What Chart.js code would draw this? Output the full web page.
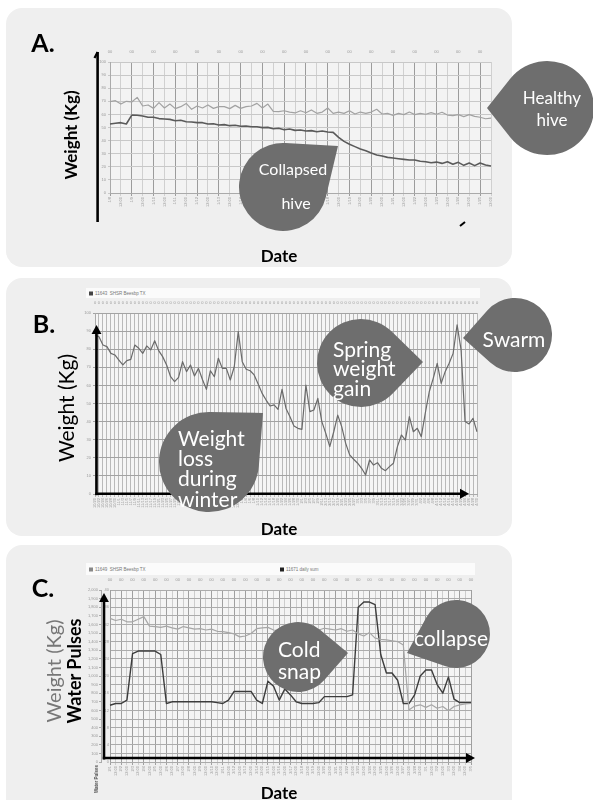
<!DOCTYPE html>
<html><head><meta charset="utf-8">
<script src="https://cdn.jsdelivr.net/npm/chart.js@4.4.1/dist/chart.umd.min.js"></script>
<style>
html,body{margin:0;padding:0;background:#fff;width:593px;height:800px;overflow:hidden;font-family:Lato,"Open Sans",sans-serif;}
.panel{position:absolute;background:#efefef;border-radius:16px;}
canvas{position:absolute;}
.c{position:absolute;white-space:nowrap;transform:translate(-50%,-50%);line-height:1;}
.l{position:absolute;white-space:nowrap;transform:translateY(-50%);line-height:1;}
.rot{position:absolute;white-space:nowrap;transform:translate(-50%,-50%) rotate(-90deg);line-height:1;}
.w{color:#fff;}
#bub{position:absolute;left:0;top:0;}
.legend{position:absolute;background:#fbfbfb;font-family:"Liberation Sans",sans-serif;font-size:4.5px;color:#777;}
.legend span{position:absolute;top:50%;transform:translateY(-50%);white-space:nowrap;}
.legend i{display:inline-block;width:4px;height:4px;margin-right:2px;vertical-align:middle;}
</style></head>
<body>
<div class="panel" style="left:6px;top:8px;width:506px;height:259px"></div>
<div class="panel" style="left:6px;top:278px;width:506px;height:258px"></div>
<div class="panel" style="left:6px;top:545px;width:506px;height:275px"></div>

<div class="legend" style="left:86px;top:288px;width:394px;height:10px"><span style="left:3px"><i style="background:#444"></i>11643 &nbsp;SHSR Beesbp TX</span></div>
<div class="legend" style="left:86px;top:563px;width:389px;height:12px"><span style="left:3px"><i style="background:#888"></i>11649 &nbsp;SHSR Beesbp TX</span><span style="left:194px"><i style="background:#222"></i>11671 daily sum</span></div>

<canvas id="cA" width="410" height="185" style="left:88px;top:46px"></canvas>
<canvas id="cB" width="400" height="215" style="left:84px;top:300px"></canvas>
<canvas id="cC" width="400" height="205" style="left:84px;top:578px"></canvas>

<svg id="bub" width="593" height="800"></svg>

<div class="c" style="left:43px;top:42px;font-weight:700;font-size:25px">A.</div>
<div class="rot" style="left:70px;top:135px;font-weight:700;font-size:17px">Weight (Kg)</div>
<div class="c" style="left:279px;top:255px;font-weight:700;font-size:17px">Date</div>
<div class="c w" style="left:552px;top:97px;font-size:17px">Healthy</div>
<div class="c w" style="left:552px;top:119px;font-size:17px">hive</div>
<div class="c w" style="left:293px;top:169px;font-size:16px">Collapsed</div>
<div class="c w" style="left:296px;top:203px;font-size:16px">hive</div>

<div class="c" style="left:44px;top:323px;font-weight:700;font-size:25px">B.</div>
<div class="rot" style="left:65px;top:408px;font-size:21px">Weight (Kg)</div>
<div class="c" style="left:279px;top:528px;font-weight:700;font-size:17px">Date</div>
<div class="l w" style="left:178px;top:437px;font-size:21px">Weight</div>
<div class="l w" style="left:178px;top:457px;font-size:21px">loss</div>
<div class="l w" style="left:178px;top:477px;font-size:21px">during</div>
<div class="l w" style="left:178px;top:498px;font-size:21px">winter</div>
<div class="l w" style="left:333px;top:348px;font-size:21px">Spring</div>
<div class="l w" style="left:333px;top:367px;font-size:21px">weight</div>
<div class="l w" style="left:333px;top:387px;font-size:21px">gain</div>
<div class="c w" style="left:514px;top:338px;font-size:21px">Swarm</div>

<div class="c" style="left:43px;top:587px;font-weight:700;font-size:25px">C.</div>
<div class="rot" style="left:53px;top:671px;font-size:20px;color:#777">Weight (Kg)</div>
<div class="rot" style="left:74px;top:671px;font-size:18px;font-weight:700;color:#000">Water Pulses</div>
<div class="rot" style="left:97px;top:779px;font-size:4.5px;font-weight:700;color:#555;font-family:'Liberation Sans'">Water Pulses</div>
<div class="c" style="left:279px;top:792px;font-weight:700;font-size:17px">Date</div>
<div class="l w" style="left:278px;top:648px;font-size:21px">Cold</div>
<div class="l w" style="left:278px;top:670px;font-size:21px">snap</div>
<div class="c w" style="left:451px;top:637px;font-size:21px">collapse</div>

<script>
// ---------- DATA ----------
// Panel A: samples every 6 h, day ticks
const daysA = ['1/8','1/9','1/10','1/11','1/12','1/13','1/14','1/15','1/16','1/17','1/18','1/19','1/20','1/21','1/22','1/23','1/24','1/25'];
const healthyA = [69.7,70.5,67.9,70.0,69.5,73.0,66.4,67.2,64.6,69.0,
  64.9,67.9,64.4,65.9,68.4,63.9,66.4,64.9,67.2,64.6,
  65.9,65.9,64.4,66.9,64.6,65.9,66.4,68.4,64.9,67.9,
  62.3,62.1,62.8,61.8,61.1,62.8,61.3,63.4,60.8,61.8,
  64.9,60.8,61.8,60.8,62.8,60.3,61.8,60.8,61.8,63.9,
  60.3,60.8,59.3,60.8,59.8,61.8,59.8,60.8,60.1,61.3,
  60.1,61.6,59.5,59.0,59.8,58.3,59.8,58.5,57.8,56.7,57.2];
const collapsedA = [52.7,53.2,53.7,52.7,59.5,59.3,58.8,57.8,57.8,56.8,
  56.5,56.2,55.2,55.5,54.4,54.2,53.7,53.7,52.7,52.9,
  51.9,52.2,51.4,51.7,50.9,51.1,50.6,50.6,49.9,50.1,
  49.1,49.4,48.3,48.9,47.8,48.1,47.3,47.6,46.8,47.3,
  46.6,46.3,42.5,39.4,37.2,35.4,33.6,32.3,30.5,29.0,
  28.2,27.2,26.7,26.2,25.7,25.2,25.2,24.2,23.9,23.1,
  23.6,22.6,23.9,21.9,23.4,21.1,22.9,20.9,22.9,21.4,20.6];

// Panel B: one sample every 2 days
const datesB = ['10/20','10/22','10/24','10/26','10/28','10/30',
  '11/1','11/3','11/5','11/7','11/9','11/11','11/13','11/15','11/17','11/19','11/21','11/23','11/25','11/27','11/29',
  '12/1','12/3','12/5','12/7','12/9','12/11','12/13','12/15','12/17','12/19','12/21','12/23','12/25','12/27','12/29','12/31',
  '1/2','1/4','1/6','1/8','1/10','1/12','1/14','1/16','1/18','1/20','1/22','1/24','1/26','1/28','1/30',
  '2/1','2/3','2/5','2/7','2/9','2/11','2/13','2/15','2/17','2/19','2/21','2/23','2/25','2/27',
  '3/1','3/3','3/5','3/7','3/9','3/11','3/13','3/15','3/17','3/19','3/21','3/23','3/25','3/27','3/29','3/31',
  '4/2','4/4','4/6','4/8','4/10','4/12','4/14','4/16','4/18','4/20','4/22','4/24','4/26','4/28','4/30'];
const weightB = [87.8,86.9,82.3,81.4,77.7,76.8,74.0,71.3,73.7,74.4,
  82.3,80.5,77.7,81.8,79.6,84.7,79.2,75.9,71.3,64.8,
  62.1,64.4,73.1,67.6,71.3,65.2,69.4,63.3,57.8,68.1,
  64.8,75.0,69.4,69.4,63.0,70.3,89.7,73.1,68.9,68.1,
  65.8,60.8,55.6,51.9,48.6,49.2,46.8,57.8,47.3,42.7,
  37.6,36.3,35.7,60.2,45.5,46.4,52.8,40.0,33.5,26.2,
  34.4,43.6,37.2,28.0,21.6,19.2,17.0,14.2,10.5,18.8,
  16.0,17.3,14.2,12.9,15.1,17.0,26.2,32.6,29.8,42.7,
  34.4,36.3,31.7,44.6,56.5,63.9,72.2,61.1,67.6,72.2,
  77.7,93.4,79.6,40.0,38.7,41.8,34.4];

// Panel C: samples every 12 h
const daysC = ['2/1','2/2','2/3','2/4','2/5','2/6','2/7','2/8','2/9','2/10','2/11','2/12','2/13','2/14','2/15','2/16','2/17','2/18','2/19','2/20','2/21','2/22','2/23','2/24','2/25','2/26','2/27','2/28','3/1','3/2','3/3','3/4','3/5'];
const weightC = [33.4,32.9,33.2,32.6,32.6,33.2,33.8,31.6,31.5,31.3,
  31.6,31.2,30.9,31.5,31.2,30.9,31.0,30.7,30.9,30.4,
  30.3,30.1,29.8,29.1,29.3,29.9,31.0,31.2,31.3,30.7,
  30.5,30.7,30.4,30.7,30.5,30.7,30.9,30.7,31.1,30.9,
  30.7,31.0,30.4,30.7,29.8,29.3,30.1,28.8,28.5,28.4,
  28.2,28.0,27.2,12.1,13.0,13.3,12.7,13.3,12.5,12.9,
  11.9,12.9,13.3,13.5,13.6];
const pulsesC = [660,680,680,720,1260,1290,1290,1290,1290,1250,
  680,700,700,700,700,700,700,700,700,690,
  680,720,820,820,820,820,720,680,940,880,
  720,850,780,700,680,680,680,690,760,760,
  760,760,760,780,1800,1860,1860,1830,1250,1035,
  1035,950,680,680,780,1000,1070,1070,900,800,
  990,730,690,690,690];

// ---------- helpers ----------
Chart.defaults.font.family = "'Liberation Sans', sans-serif";
const tickFont = {font:{size:4}, color:'#999'};
const fitH = h => s => { s.height = h; s.paddingLeft = 0; s.paddingRight = 0; };
const fitW = w => s => { s.width = w; s.paddingTop = 0; s.paddingBottom = 0; };
const base = {animation:false, responsive:false, devicePixelRatio:1, events:[],
  plugins:{legend:{display:false}, tooltip:{enabled:false}},
  elements:{point:{radius:0}, line:{borderJoinStyle:'round', tension:0}}};

function deco(bg, shapes) {
  return {
    id:'deco',
    beforeDraw(chart) {
      const ctx = chart.ctx, a = chart.chartArea;
      ctx.save(); ctx.fillStyle = bg; ctx.fillRect(a.left, a.top, a.right - a.left, a.bottom - a.top); ctx.restore();
    },
    afterDraw(chart) {
      const ctx = chart.ctx, a = chart.chartArea;
      ctx.save(); ctx.strokeStyle = '#000'; ctx.fillStyle = '#000';
      shapes(a).forEach(([x1, y1, x2, y2, w, head]) => {
        const dx = x2 - x1, dy = y2 - y1, L = Math.hypot(dx, dy), ux = dx / L, uy = dy / L;
        let ex = x2, ey = y2;
        if (head) { ex = x2 - ux * head; ey = y2 - uy * head; }
        ctx.lineWidth = w; ctx.beginPath(); ctx.moveTo(x1, y1); ctx.lineTo(ex, ey); ctx.stroke();
        if (head) {
          const hw = head * 0.55;
          ctx.beginPath(); ctx.moveTo(x2, y2);
          ctx.lineTo(ex - uy * hw, ey + ux * hw); ctx.lineTo(ex + uy * hw, ey - ux * hw);
          ctx.closePath(); ctx.fill();
        }
      });
      ctx.restore();
    }
  };
}

// ---------- Chart A ----------
const labelsA = healthyA.map((_, i) => i % 4 === 0 ? daysA[i / 4] : (i % 4 === 2 ? '12:00' : ''));
const topA = healthyA.map((_, i) => i % 4 === 0 ? '00' : '');
new Chart(document.getElementById('cA'), {
  type:'line',
  data:{labels:labelsA, datasets:[
    {data:healthyA, borderColor:'#a2a2a2', borderWidth:1.2},
    {data:collapsedA, borderColor:'#5a5a5a', borderWidth:1.6}]},
  options:{...base, layout:{padding:{right:7}},
    scales:{
      x:{position:'bottom', grid:{color:c => c.index % 4 === 0 ? '#9c9c9c' : (c.index % 2 === 0 ? '#d0d0d0' : 'rgba(0,0,0,0)'), tickLength:3},
         border:{color:'#aaa'}, ticks:{...tickFont, autoSkip:false, minRotation:90, maxRotation:90, padding:1}, afterFit:fitH(38)},
      xt:{type:'category', position:'top', labels:topA, grid:{display:false}, border:{display:false},
         ticks:{...tickFont, autoSkip:false, minRotation:0, maxRotation:0, padding:0}, afterFit:fitH(16)},
      y:{min:0, max:100, ticks:{...tickFont, stepSize:10, padding:2}, grid:{color:'#c8c8c8', tickLength:2}, border:{color:'#aaa'}, afterFit:fitW(22)}
    }},
  plugins:[deco('#f3f3f3', a => [
    [a.left - 12.4, a.bottom + 29, a.left - 12.4, a.top - 10, 2.6, 0],
    [a.left - 15.5, a.top - 4, a.left - 12.4, a.top - 10, 2.2, 0],
    [a.right - 31, a.bottom + 33, a.right - 26, a.bottom + 29, 2, 0]
  ])]
});

// ---------- Chart B ----------
const topB = datesB.map(() => '0');
new Chart(document.getElementById('cB'), {
  type:'line',
  data:{labels:datesB, datasets:[{data:weightB, borderColor:'#6a6a6a', borderWidth:1.2}]},
  options:{...base, layout:{padding:{right:7}},
    scales:{
      x:{position:'bottom', grid:{color:'#b9b9b9', tickLength:3}, border:{color:'#aaa'},
         ticks:{...tickFont, autoSkip:false, minRotation:90, maxRotation:90, padding:1}, afterFit:fitH(21)},
      xt:{type:'category', position:'top', labels:topB, grid:{display:false}, border:{display:false},
         ticks:{...tickFont, autoSkip:false, minRotation:0, maxRotation:0, padding:0}, afterFit:fitH(13)},
      y:{min:0, max:100, ticks:{...tickFont, stepSize:10, padding:2}, grid:{color:'#a3a3a3', tickLength:2}, border:{color:'#aaa'}, afterFit:fitW(11)}
    }},
  plugins:[deco('#f5f5f5', a => [
    [a.left + 1.5, a.bottom + 1.2, a.left + 1.5, a.top + 12, 2.6, 9],
    [a.left + 0.3, a.bottom - 0.3, a.right - 8, a.bottom - 0.3, 2.6, 9]
  ])]
});

// ---------- Chart C ----------
const labelsC = weightC.map((_, i) => i % 2 === 0 ? daysC[i / 2] : '12:00');
const topC = weightC.map((_, i) => i % 2 === 0 ? '00' : '');
new Chart(document.getElementById('cC'), {
  type:'line',
  data:{labels:labelsC, datasets:[
    {data:weightC, yAxisID:'yW', borderColor:'#a6a6a6', borderWidth:1.2},
    {data:pulsesC, yAxisID:'yWater', borderColor:'#3c3c3c', borderWidth:1.4}]},
  options:{...base, layout:{padding:{right:13}},
    scales:{
      x:{position:'bottom', grid:{color:c => c.index % 2 === 0 ? '#9f9f9f' : '#cdcdcd', tickLength:3}, border:{color:'#aaa'},
         ticks:{...tickFont, autoSkip:false, minRotation:90, maxRotation:90, padding:1}, afterFit:fitH(21)},
      xt:{type:'category', position:'top', labels:topC, grid:{display:false}, border:{display:false},
         ticks:{...tickFont, autoSkip:false, minRotation:0, maxRotation:0, padding:0}, afterFit:fitH(12)},
      yWater:{position:'left', weight:1, min:0, max:2000, ticks:{...tickFont, stepSize:100, padding:1}, grid:{color:'#ababab', tickLength:2}, border:{color:'#aaa'}, afterFit:fitW(17)},
      yW:{position:'left', weight:0, min:0, max:40, ticks:{...tickFont, stepSize:4, padding:1}, grid:{drawOnChartArea:false, tickLength:0}, border:{display:false}, afterFit:fitW(9)}
    }},
  plugins:[deco('#f4f4f4', a => [
    [a.left - 6, a.bottom - 2.5, a.left - 6, a.top + 3, 2.6, 9],
    [a.left - 7.2, a.bottom - 4, a.right + 4, a.bottom - 4, 2.6, 9]
  ])]
});

// ---------- callout bubbles ----------
function dropPath(cx, cy, r, tx, ty) {
  const d = Math.hypot(tx - cx, ty - cy), th = Math.atan2(ty - cy, tx - cx), al = Math.acos(r / d);
  const p1 = [cx + r * Math.cos(th + al), cy + r * Math.sin(th + al)];
  const p2 = [cx + r * Math.cos(th - al), cy + r * Math.sin(th - al)];
  return `M${p1} L${tx},${ty} L${p2} A${r},${r} 0 1 0 ${p1} Z`;
}
const bubbles = [
  [547,108,47,487,108],
  [283,187,44,338,146],
  [209,462,50,263,413],
  [361,363,44,423,362],
  [515,335,37,463,338],
  [298,657,35,348,653],
  [456,634,34,407,653]
];
document.getElementById('bub').innerHTML = bubbles.map(b => `<path d="${dropPath(...b)}" fill="#6e6e6e"/>`).join('');
</script>
</body></html>
